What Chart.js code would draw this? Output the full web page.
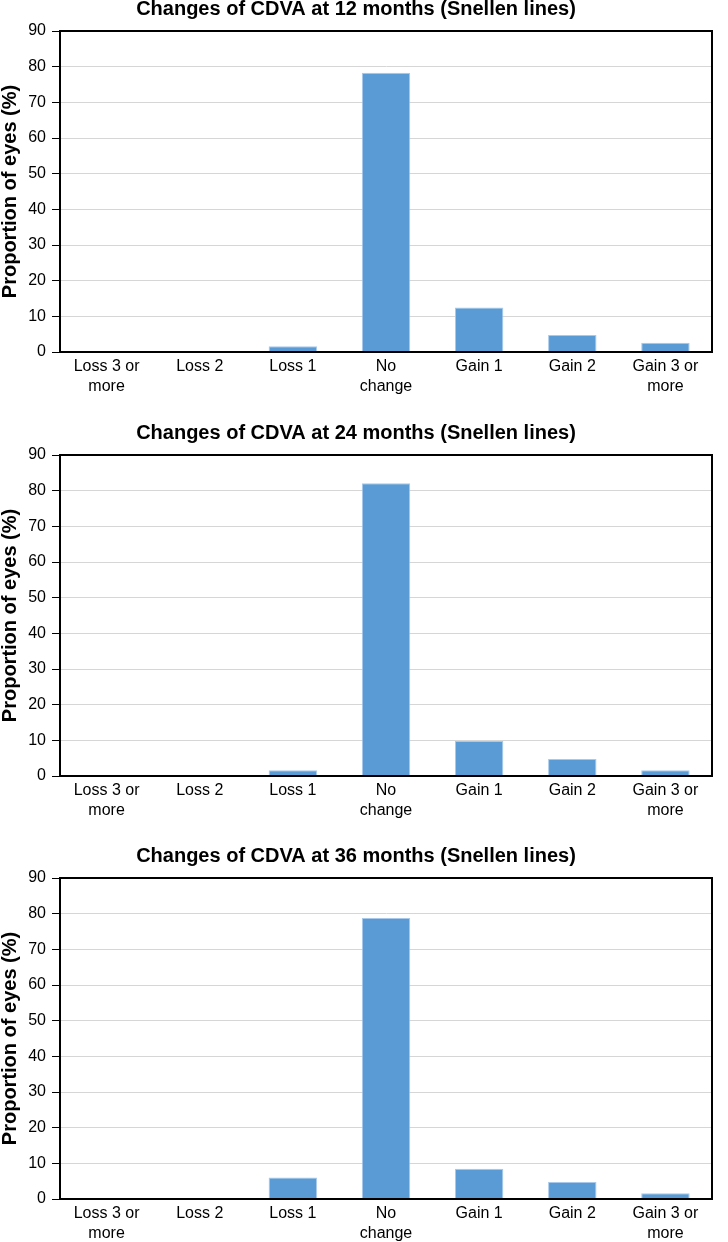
<!DOCTYPE html>
<html>
<head>
<meta charset="utf-8">
<script src="https://cdn.jsdelivr.net/npm/chart.js@4.4.0/dist/chart.umd.min.js"></script>
<style>
    body { margin: 0; background: #fff; width: 728px; height: 1242px; overflow: hidden; }
    .box { position: absolute; left: 0; width: 728px; height: 401px; }
</style>
</head>
<body>
<div class="box" style="top:0px"><canvas id="chart12" width="728" height="401"></canvas></div>
<div class="box" style="top:424px"><canvas id="chart24" width="728" height="401"></canvas></div>
<div class="box" style="top:847px"><canvas id="chart36" width="728" height="401"></canvas></div>
<script>
let categories = [['Loss 3 or', 'more'], 'Loss 2', 'Loss 1', ['No', 'change'], 'Gain 1', 'Gain 2', ['Gain 3 or', 'more']]
let values12 = [0, 0, 1.6, 78.3, 12.5, 4.8, 2.6]
let values24 = [0, 0, 1.6, 82.1, 9.8, 4.8, 1.6]
let values36 = [0, 0, 6, 78.8, 8.5, 4.8, 1.6]
let yTicks = [0, 10, 20, 30, 40, 50, 60, 70, 80, 90]

let barColor = '#5b9bd5'

// black frame round the plot area
const frame = {
    id: 'frame',
    afterDatasetsDraw(chart) {
        const a = chart.chartArea
        const ctx = chart.ctx
        ctx.save()
        ctx.strokeStyle = '#000'
        ctx.lineWidth = 2
        ctx.strokeRect(a.left, a.top, a.right - a.left, a.bottom - a.top)
        ctx.restore()
    }
}

function makeChart(id, title, values) {
    let ctx = document.getElementById(id).getContext('2d')
    return new Chart(ctx, {
        type: 'bar',
        data: {
            labels: categories,
            datasets: [{
                data: values,
                backgroundColor: barColor,
                borderColor: '#a9c9ea',
                borderWidth: 1,
                barPercentage: 0.52,
                categoryPercentage: 1
            }]
        },
        plugins: [frame],
        options: {
            responsive: false,
            animation: false,
            layout: { padding: { left: 0, right: 16, top: 0, bottom: 0 } },
            plugins: {
                legend: { display: false },
                tooltip: { enabled: false },
                title: {
                    display: true,
                    text: title,
                    color: '#000',
                    font: { family: 'Liberation Sans', size: 20, weight: 'bold', lineHeight: 0.9 },
                    padding: { top: 0, bottom: 13 }
                }
            },
            scales: {
                x: {
                    grid: { display: false, drawTicks: false },
                    border: { color: '#000', width: 2 },
                    ticks: {
                        color: '#000',
                        font: { family: 'Liberation Sans', size: 16, lineHeight: 1.25 },
                        padding: 5,
                        maxRotation: 0,
                        autoSkip: false
                    },
                    afterFit(scale) { scale.height = 49 }
                },
                y: {
                    min: 0,
                    max: 90,
                    afterBuildTicks(scale) { scale.ticks = yTicks.map(v => ({ value: v })) },
                    grid: { color: '#d6d6d6', lineWidth: 1, tickColor: '#000', tickLength: 8 },
                    border: { color: '#000', width: 2 },
                    ticks: {
                        color: '#000',
                        font: { family: 'Liberation Sans', size: 16 },
                        padding: 6
                    },
                    title: {
                        display: true,
                        text: 'Proportion of eyes (%)',
                        color: '#000',
                        font: { family: 'Liberation Sans', size: 20, weight: 'bold', lineHeight: 1 },
                        padding: { top: 0, bottom: 0 }
                    },
                    afterFit(scale) { scale.width = 60 }
                }
            }
        }
    })
}

let chart1 = makeChart('chart12', 'Changes of CDVA at 12 months (Snellen lines)', values12)
let chart2 = makeChart('chart24', 'Changes of CDVA at 24 months (Snellen lines)', values24)
let chart3 = makeChart('chart36', 'Changes of CDVA at 36 months (Snellen lines)', values36)
</script>
</body>
</html>
